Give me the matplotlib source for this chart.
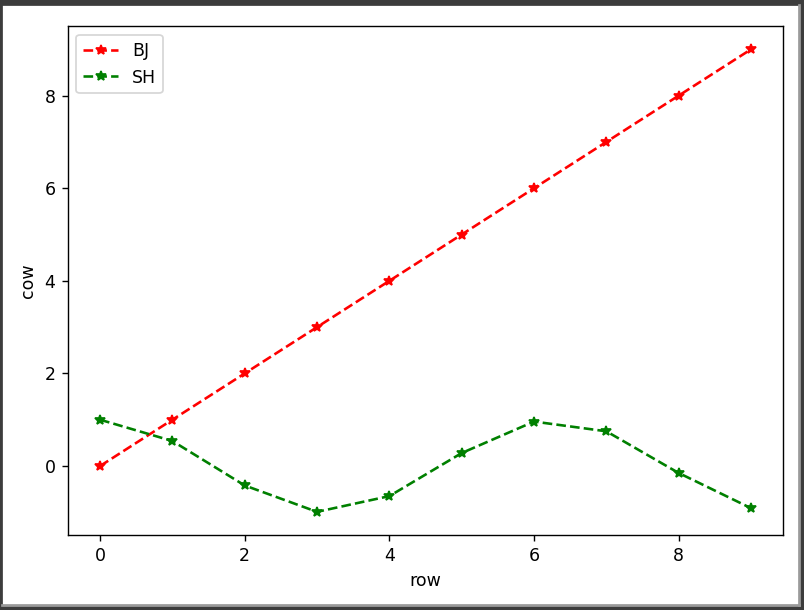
import matplotlib
matplotlib.use('Agg')
import matplotlib.pyplot as plt
from matplotlib.patches import Rectangle

row = [0, 1, 2, 3, 4, 5, 6, 7, 8, 9]
bj = [0, 1, 2, 3, 4, 5, 6, 7, 8, 9]
sh = [1.0, 0.54, -0.42, -0.99, -0.65, 0.28, 0.96, 0.75, -0.15, -0.91]

# reference looks like a 100-dpi figure shown a bit enlarged
DPI = 125
fig = plt.figure(figsize=(804 / DPI, 610 / DPI), dpi=DPI)
ax = fig.add_axes([0.084, 0.123, 0.8905, 0.834])

ax.plot(row, bj, 'r--*', label='BJ')
ax.plot(row, sh, 'g--*', label='SH')
ax.set_xlabel('row')
ax.set_ylabel('cow')
ax.legend(loc='upper left')

# screenshot frame around the figure
W, H = 804, 610
def px(x, y, w, h, color):
    fig.patches.append(Rectangle((x / W, 1 - (y + h) / H), w / W, h / H,
                                 transform=fig.transFigure, color=color, zorder=10))

px(0, 0, W, 5, '#3c3c3c')
px(0, 0, 2, H, '#3c3c3c')
px(W - 3, 0, 3, H, '#3c3c3c')
px(0, H - 3, W, 3, '#3c3c3c')
px(W - 5, 5, 1, H - 9, '#9a9a9a')
px(2, H - 5, W - 6, 1, '#9a9a9a')

fig.savefig('out.png', dpi=DPI)
